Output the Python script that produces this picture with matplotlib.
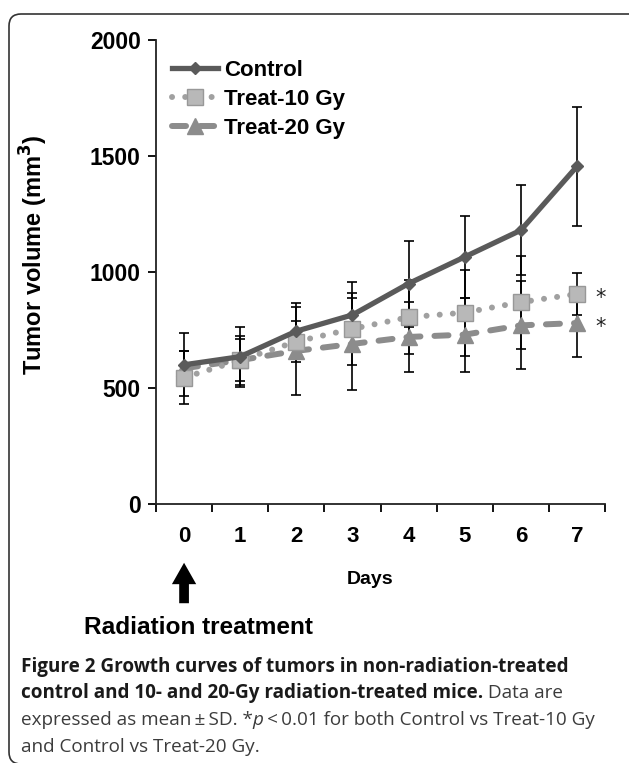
import numpy as np
import matplotlib
matplotlib.use('Agg')
import matplotlib.pyplot as plt
from matplotlib.patches import FancyBboxPatch
from matplotlib.transforms import IdentityTransform

# datos
days = [0, 1, 2, 3, 4, 5, 6, 7]
control = [600, 635, 745, 815, 950, 1065, 1180, 1455]
control_sd = [135, 130, 120, 140, 185, 175, 195, 255]
treat10 = [545, 620, 700, 755, 805, 825, 870, 905]
treat10_sd = [115, 105, 90, 155, 160, 185, 200, 90]
treat20 = [585, 620, 660, 690, 720, 730, 770, 780]
treat20_sd = [75, 90, 190, 200, 150, 160, 190, 145]
yticks = [0, 500, 1000, 1500, 2000]

W, H = 629, 763
fig = plt.figure(figsize=(W / 100, H / 100), dpi=100)
plt.rcParams['font.family'] = ['Liberation Sans', 'DejaVu Sans']

ax = fig.add_axes([156 / W, 1 - 504 / H, (605 - 156) / W, (504 - 40) / H])

# barras de error (detras de las lineas)
for vals, sd in [(control, control_sd), (treat10, treat10_sd), (treat20, treat20_sd)]:
    ax.errorbar(days, vals, yerr=sd, fmt='none', ecolor='black',
                elinewidth=1.2, capsize=3.5, capthick=1.2, zorder=2)

ax.plot(days, control, color='#5a5a5a', lw=3.8, marker='D', ms=6,
        mfc='#5a5a5a', mec='#5a5a5a', label='Control', zorder=5)
ax.plot(days, treat10, color='#a0a0a0', lw=4.3, ls=(0, (0.01, 2.2)),
        dash_capstyle='round', marker='s', ms=11, mfc='#b8b8b8',
        mec='#989898', mew=1.0, label='Treat-10 Gy', zorder=4)
ax.plot(days, treat20, color='#8c8c8c', lw=4.3, ls=(0, (2.35, 2.35)),
        dash_capstyle='round', marker='^', ms=11, mfc='#8c8c8c', mec='#8c8c8c',
        label='Treat-20 Gy', zorder=3)

# asteriscos de significancia
for v in [treat10[-1], treat20[-1]]:
    ax.annotate('*', xy=(days[-1], v), xytext=(17, -3), textcoords='offset points',
                ha='center', va='center', fontsize=15, family='DejaVu Sans',
                color='#222222', annotation_clip=False)

ax.set_xlim(-0.5, 7.5)
ax.set_ylim(0, 2000)
ax.set_yticks(yticks)
ax.set_xticks(days)
ax.set_xticks(np.arange(-0.5, 8, 1), minor=True)
ax.tick_params(axis='x', which='major', length=0, pad=16, labelsize=16)
ax.tick_params(axis='x', which='minor', length=6, width=1.3, direction='out')
ax.tick_params(axis='y', length=6, width=1.3, pad=5, labelsize=16.5)
for lab in ax.get_xticklabels() + ax.get_yticklabels():
    lab.set_fontweight('bold')
for s in ['top', 'right']:
    ax.spines[s].set_visible(False)
for s in ['left', 'bottom']:
    ax.spines[s].set_linewidth(1.3)
    ax.spines[s].set_color('#222222')

ax.set_ylabel('Tumor volume (mm$^\\mathbf{3}$)', fontsize=17, fontweight='bold')
ax.yaxis.set_label_coords((50 - 156) / 449, (504 - 255) / 464)
ax.set_xlabel('Days', fontsize=14, fontweight='bold')
ax.xaxis.set_label_coords((370 - 156) / 449, (504 - 579) / 464)
ax.xaxis.label.set_va('center')

leg = ax.legend(loc='upper left', bbox_to_anchor=(0.0, 0.99), frameon=False,
                prop={'weight': 'bold', 'size': 16}, handlelength=2.1,
                handletextpad=0.25, labelspacing=0.35, borderaxespad=0.3)

# flecha de tratamiento
ax.annotate('', xy=(0, (504 - 560) / 464), xytext=(0, (504 - 606) / 464),
            xycoords=('data', 'axes fraction'), textcoords=('data', 'axes fraction'),
            arrowprops=dict(arrowstyle='simple,head_length=1.1,head_width=1.25,tail_width=0.5',
                            mutation_scale=14, color='black', lw=0),
            annotation_clip=False)
fig.text(198 / W, 1 - 627 / H, 'Radiation treatment', ha='center', va='center',
         fontsize=17.6, fontweight='bold')

# leyenda de la figura
cap_font = ['Open Sans', 'DejaVu Sans']
lines = [
    [('Figure 2 Growth curves of tumors in non-radiation-treated', 'bold', 'normal')],
    [('control and 10- and 20-Gy radiation-treated mice.', 'bold', 'normal'),
     (' Data are', 'normal', 'normal')],
    [('expressed as mean\u2009\u00b1\u2009SD. *', 'normal', 'normal'), ('p', 'normal', 'italic'),
     ('\u2009<\u20090.01 for both Control vs Treat-10 Gy', 'normal', 'normal')],
    [('and Control vs Treat-20 Gy.', 'normal', 'normal')],
]
baselines = [672, 698, 725, 752]
fig.canvas.draw()
rend = fig.canvas.get_renderer()
for parts, yb in zip(lines, baselines):
    x = 21
    for txt, wt, st in parts:
        t = fig.text(x / W, 1 - yb / H, txt, ha='left', va='baseline', fontsize=13.6,
                     family=cap_font, fontweight=wt, style=st,
                     color='#1a1a1a' if wt == 'bold' else '#3c3c3c')
        bb = t.get_window_extent(rend)
        x = bb.x1

# marco redondeado
frame = FancyBboxPatch((9, -1), 640, H - 14 + 1, boxstyle='round,pad=0,rounding_size=12',
                       transform=IdentityTransform(), fill=False, ec='#333333', lw=1.2)
fig.add_artist(frame)

fig.savefig('out.png', dpi=100)
